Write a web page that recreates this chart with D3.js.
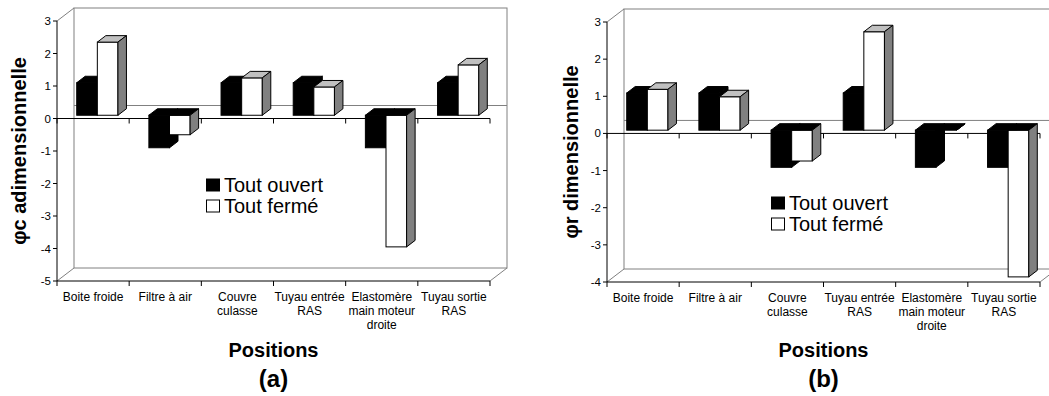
<!DOCTYPE html>
<html>
<head>
<meta charset="utf-8">
<script src="https://cdn.jsdelivr.net/npm/d3@7"></script>
<style>
  body { margin: 0; background: #fff; }
  svg { display: block; font-family: "Liberation Sans", Arial, sans-serif; }
</style>
</head>
<body>
<svg id="chart" width="1049" height="396"></svg>
<script>
// categories shared by both panels
const categories = ["Boite froide", "Filtre à air", "Couvre culasse", "Tuyau entrée RAS",
  "Elastomère main moteur droite", "Tuyau sortie RAS"];
const seriesNames = ["Tout ouvert", "Tout fermé"];

// panel (a) : phi c adimensionnelle
const phiCOuvert = [1, -1, 1, 1, -1, 1];
const phiCFerme = [2.25, -0.6, 1.15, 0.87, -4.05, 1.55];
const phiCTicks = [-5, -4, -3, -2, -1, 0, 1, 2, 3];

// panel (b) : phi r dimensionnelle
const phiROuvert = [1, 1, -1, 1, -1, -1];
const phiRFerme = [1.1, 0.9, -0.83, 2.65, 0, -3.95];
const phiRTicks = [-4, -3, -2, -1, 0, 1, 2, 3];

const svg = d3.select("#chart");
const DEPTH = { x: 17, y: -13 }; // 3d depth of the back wall

function drawPanel(opts) {
  const g = svg.append("g");
  const left = opts.left, right = opts.left + 433, top = opts.top, bottom = opts.top + 260;

  const x0 = d3.scaleBand().domain(categories).range([left, right]).padding(0);
  // excel gap width 150% -> outer padding 0.75 of a bar
  const x1 = d3.scaleBand().domain(seriesNames).range([0, x0.bandwidth()])
    .paddingInner(0).paddingOuter(0.75);
  const y = d3.scaleLinear().domain(d3.extent(opts.ticks)).range([bottom, top]);

  const grey = "#808080";
  const dx = DEPTH.x, dy = DEPTH.y;

  // back wall + floor edges
  g.append("rect")
    .attr("x", left + dx).attr("y", top + dy)
    .attr("width", right - left).attr("height", bottom - top)
    .attr("fill", "none").attr("stroke", grey);
  g.append("line")
    .attr("x1", left + dx).attr("x2", right + dx)
    .attr("y1", y(0) + dy).attr("y2", y(0) + dy)
    .attr("stroke", grey);
  [[left, top], [left, bottom], [right, bottom]].forEach(p => {
    g.append("line")
      .attr("x1", p[0]).attr("y1", p[1])
      .attr("x2", p[0] + dx).attr("y2", p[1] + dy)
      .attr("stroke", grey);
  });

  // value axis
  const yAxis = g.append("g");
  yAxis.append("line")
    .attr("x1", left).attr("x2", left).attr("y1", top).attr("y2", bottom)
    .attr("stroke", "#000");
  opts.ticks.forEach(t => {
    yAxis.append("line")
      .attr("x1", left - 4).attr("x2", left).attr("y1", y(t)).attr("y2", y(t))
      .attr("stroke", "#000");
    yAxis.append("text")
      .attr("x", left - 6).attr("y", y(t)).attr("dy", "0.35em")
      .attr("text-anchor", "end")
      .style("font-size", "11.5px")
      .text(t);
  });

  // category axes : zero line and floor line, ticks at boundaries
  const bounds = categories.map(c => x0(c)).concat([right]);
  [y(0), bottom].forEach(yy => {
    g.append("line")
      .attr("x1", left).attr("x2", right).attr("y1", yy).attr("y2", yy)
      .attr("stroke", "#000");
    bounds.forEach(bx => {
      g.append("line")
        .attr("x1", bx).attr("x2", bx).attr("y1", yy).attr("y2", yy + 5)
        .attr("stroke", "#000");
    });
  });

  // bars
  const ox = dx / 4, oy = dy / 4;      // bars sit in the middle of the depth
  const bdx = dx / 2, bdy = dy / 2;    // bar depth
  const w = x1.bandwidth();
  const bars = g.append("g");
  categories.forEach((cat, i) => {
    opts.series.forEach((vals, j) => {
      const v = vals[i];
      const bx = x0(cat) + x1(seriesNames[j]) + ox;
      const yz = y(0) + oy, yv = y(v) + oy;
      const yt = Math.min(yz, yv), yb = Math.max(yz, yv);
      const isBlack = j === 0;
      const front = isBlack ? "#000" : "#fff";
      const topFill = isBlack || v <= 0 ? "#000" : "#c0c0c0";
      const sideFill = isBlack ? "#000" : grey;

      bars.append("rect")
        .attr("x", bx).attr("y", yt).attr("width", w).attr("height", yb - yt)
        .attr("fill", front).attr("stroke", "#000").attr("stroke-width", 1);
      bars.append("path")
        .attr("d", d3.line()([[bx, yt], [bx + bdx, yt + bdy], [bx + w + bdx, yt + bdy], [bx + w, yt]]) + "Z")
        .attr("fill", topFill).attr("stroke", "#000").attr("stroke-linejoin", "round");
      bars.append("path")
        .attr("d", d3.line()([[bx + w, yt], [bx + w + bdx, yt + bdy], [bx + w + bdx, yb + bdy], [bx + w, yb]]) + "Z")
        .attr("fill", sideFill).attr("stroke", "#000").attr("stroke-linejoin", "round");
    });
  });

  // category labels, wrapped like excel
  categories.forEach(cat => {
    const t = g.append("text")
      .attr("text-anchor", "middle")
      .style("font-size", "12px");
    const cx = x0(cat) + x0.bandwidth() / 2;
    const words = cat.split(" ");
    let lines = [], line = [];
    words.forEach(wd => {
      line.push(wd);
      t.text(line.join(" "));
      if (t.node().getComputedTextLength() > 72 && line.length > 1) {
        line.pop();
        lines.push(line.join(" "));
        line = [wd];
      }
    });
    lines.push(line.join(" "));
    t.text(null);
    lines.forEach((l, k) => {
      t.append("tspan").attr("x", cx).attr("y", bottom + 20 + k * 14).text(l);
    });
  });

  // axis titles
  g.append("text")
    .attr("transform", `translate(${opts.yTitleX},${(top + bottom) / 2}) rotate(-90)`)
    .attr("text-anchor", "middle")
    .style("font-size", "20px").style("font-weight", "bold")
    .text(opts.yTitle);
  g.append("text")
    .attr("x", (left + right) / 2).attr("y", 357)
    .attr("text-anchor", "middle")
    .style("font-size", "20px").style("font-weight", "bold")
    .text("Positions");
  g.append("text")
    .attr("x", (left + right) / 2).attr("y", 387)
    .attr("text-anchor", "middle")
    .style("font-size", "24px").style("font-weight", "bold")
    .text(opts.letter);

  // legend
  const lg = g.append("g").attr("transform", `translate(${opts.legend[0]},${opts.legend[1]})`);
  seriesNames.forEach((s, j) => {
    lg.append("rect")
      .attr("x", 0.5).attr("y", j * 21 - 12.5).attr("width", 13).attr("height", 12)
      .attr("fill", j === 0 ? "#000" : "#fff").attr("stroke", "#000");
    lg.append("text")
      .attr("x", 18).attr("y", j * 21)
      .style("font-size", "20px")
      .text(s);
  });
}

drawPanel({ left: 57, top: 21, ticks: phiCTicks, series: [phiCOuvert, phiCFerme],
  yTitle: "φc adimensionnelle", yTitleX: 26, letter: "(a)", legend: [206, 191.5] });
drawPanel({ left: 607, top: 22, ticks: phiRTicks, series: [phiROuvert, phiRFerme],
  yTitle: "φr dimensionnelle", yTitleX: 578, letter: "(b)", legend: [771, 209.5] });
</script>
</body>
</html>
